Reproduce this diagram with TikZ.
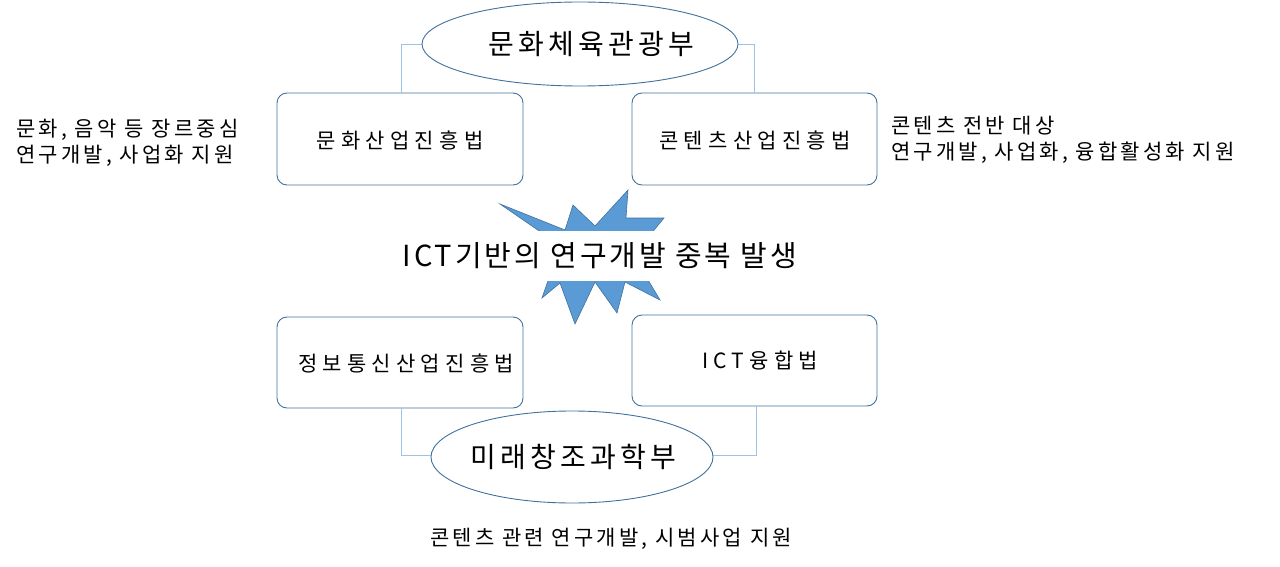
\documentclass[tikz,border=0pt]{standalone}
\usepackage{fontspec}
\setmainfont{Noto Sans CJK KR}
\newfontfamily\wideA[LetterSpace=25]{Noto Sans CJK KR}
\newfontfamily\wideB[LetterSpace=15]{Noto Sans CJK KR}
\newfontfamily\wideC[LetterSpace=10]{Noto Sans CJK KR}
\definecolor{bord}{HTML}{41719C}
\definecolor{conc}{HTML}{9DC3E6}
\definecolor{star}{HTML}{5B9BD5}
\begin{document}
\begin{tikzpicture}[x=1pt,y=-1pt,
  box/.style={draw=bord, rounded corners=10pt, line width=0.9pt},
  ell/.style={draw=bord, line width=0.9pt},
  conn/.style={draw=conc, line width=0.9pt},
  txt/.style={font=\wideA\fontsize{21}{25}\selectfont, inner sep=0pt},
  side/.style={font=\wideB\fontsize{21}{26}\selectfont, align=left, inner sep=0pt}]
\useasboundingbox (0,0) rectangle (1280,567);
% starburst
\fill[fill=star, draw=bord, line width=0.6pt]
 (500,204)--(565,230)--(573,205)--(595,226)--(628,190)--(626,218)--(664,218)--(650,235)--(645,275)--(660,300)--(625,282)--(617,313)--(595,282)--(575,324)--(560,283)--(542,298)--(550,275)--(545,235)--cycle;
\fill[white] (380,231) rectangle (820,281);
\node[inner sep=0pt, font=\wideC\fontsize{29}{33}\selectfont] (c) at (600,256) {ICT기반의 연구개발 중복 발생};
% boxes
\draw[box] (277,93) rectangle (523,185); \node[txt] (b1) at (400,140) {문화산업진흥법};
\draw[box] (632,93) rectangle (877,185); \node[txt] (b2) at (755,140) {콘텐츠산업진흥법};
\draw[box] (277,317) rectangle (523,408); \node[txt] (b3) at (406,363) {정보통신산업진흥법};
\draw[box] (632,315) rectangle (877,406); \node[txt] (b4) at (760,361) {ICT융합법};
% ellipses
\coordinate (e1) at (580,44);
\coordinate (e2) at (572,457);
\draw[conn] (422,44) -- (401,44) -- (401,93);
\draw[conn] (738,44) -- (754,44) -- (754,93);
\draw[conn] (401,408) -- (401,455) -- (432,455);
\draw[conn] (756,406) -- (756,455) -- (713,455);
\draw[ell, fill=white] (e1) ellipse [x radius=158, y radius=42];
\draw[ell, fill=white] (e2) ellipse [x radius=141, y radius=46];
\node[font=\wideB\fontsize{28}{32}\selectfont] (t1) at (591,44) {문화체육관광부};
\node[font=\wideB\fontsize{28}{32}\selectfont] (t2) at (573,457) {미래창조과학부};
% side texts
\node[side, anchor=west] (s1) at (16,143) {문화, 음악 등 장르중심\\연구개발, 사업화 지원};
\node[side, anchor=west] (s2) at (891,140) {콘텐츠 전반 대상\\연구개발, 사업화, 융합활성화 지원};
\node[side] (s3) at (611,539) {콘텐츠 관련 연구개발, 시범사업 지원};
\end{tikzpicture}
\end{document}
